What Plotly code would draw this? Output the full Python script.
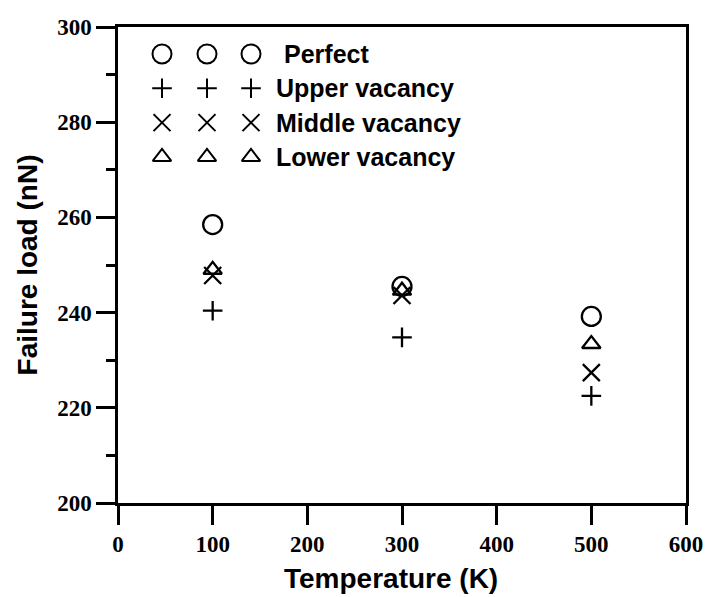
import plotly.graph_objects as go

# ---- data ----
temperature = [100, 300, 500]
perfect = [258.5, 245.5, 239.2]
upper_vacancy = [240.4, 234.8, 222.5]
middle_vacancy = [247.8, 243.6, 227.4]
lower_vacancy = [249.0, 244.6, 233.4]

series_names = ["Perfect", "Upper vacancy", "Middle vacancy", "Lower vacancy"]
series_values = [perfect, upper_vacancy, middle_vacancy, lower_vacancy]
symbols = ["circle-open", "cross-thin-open", "x-thin-open", "triangle-up-open"]
sizes = [19, 14, 17, 16]

x_ticks = [0, 100, 200, 300, 400, 500, 600]
y_ticks = [200, 220, 240, 260, 280, 300]

fig = go.Figure()

for name, vals, sym, sz in zip(series_names, series_values, symbols, sizes):
    fig.add_trace(go.Scatter(
        x=temperature, y=vals, mode="markers", name=name, showlegend=False,
        marker=dict(symbol=sym, size=sz, color="black",
                    line=dict(color="black", width=2.3)),
    ))

# ---- custom legend (three glyphs per row, like the original) ----
W, H = 705, 597
L, R, T, B = 118, 19, 27, 94
pw, ph = W - L - R, H - T - B
col_px = [162, 207, 251]
row0_px, row_step = 54, 34.3
text_px = 274
for i, (name, sym, sz) in enumerate(zip(series_names, symbols, sizes)):
    ry = 1 - (row0_px + i * row_step - T) / ph
    fig.add_trace(go.Scatter(
        x=[(c - L) / pw for c in col_px], y=[ry] * len(col_px),
        xaxis="x2", yaxis="y2", mode="markers", showlegend=False,
        hoverinfo="skip",
        marker=dict(symbol=sym, size=sz, color="black",
                    line=dict(color="black", width=2)),
    ))
    fig.add_annotation(
        x=(text_px - L) / pw, y=ry, xref="x2", yref="y2",
        text=name, showarrow=False, xanchor="left", yanchor="middle",
        xshift=8 if i == 0 else 0,
        font=dict(family="Arial, Liberation Sans", size=25, color="black", weight="bold"),
    )

tickfont = dict(family="Times New Roman, Liberation Serif", size=23, color="black", weight="bold")
titlefont = dict(family="Arial, Liberation Sans", size=28, color="black", weight="bold")

# x-axis title (placed slightly left of centre as in the original)
fig.add_annotation(
    x=(391 - L) / pw, y=-(579 - (H - B)) / ph, xref="paper", yref="paper",
    text="Temperature (K)", showarrow=False, xanchor="center", yanchor="middle",
    font=titlefont,
)

fig.update_layout(
    width=W, height=H,
    margin=dict(l=L, r=R, t=T, b=B),
    paper_bgcolor="white", plot_bgcolor="white",
    xaxis=dict(
        range=[0, 600], tickvals=x_ticks, ticks="outside", ticklen=19, tickwidth=2.5,
        tickcolor="black", showline=True, linewidth=2.5, linecolor="black",
        mirror=True, showgrid=False, zeroline=False, tickfont=tickfont,
        automargin=False, ticklabeloverflow="allow",
    ),
    yaxis=dict(
        range=[200, 300], tickvals=y_ticks, ticks="outside", ticklen=19, tickwidth=2.5,
        tickcolor="black", showline=True, linewidth=2.5, linecolor="black",
        mirror=True, showgrid=False, zeroline=False, tickfont=tickfont,
        automargin=False,
        minor=dict(dtick=10, tick0=200, ticks="outside", ticklen=9, tickwidth=2.5,
                   tickcolor="black", showgrid=False),
        title=dict(text="Failure load (nN)", font=titlefont, standoff=12),
    ),
    xaxis2=dict(range=[0, 1], overlaying="x", visible=False, fixedrange=True),
    yaxis2=dict(range=[0, 1], overlaying="y", visible=False, fixedrange=True),
)

fig.write_html("out.html")
